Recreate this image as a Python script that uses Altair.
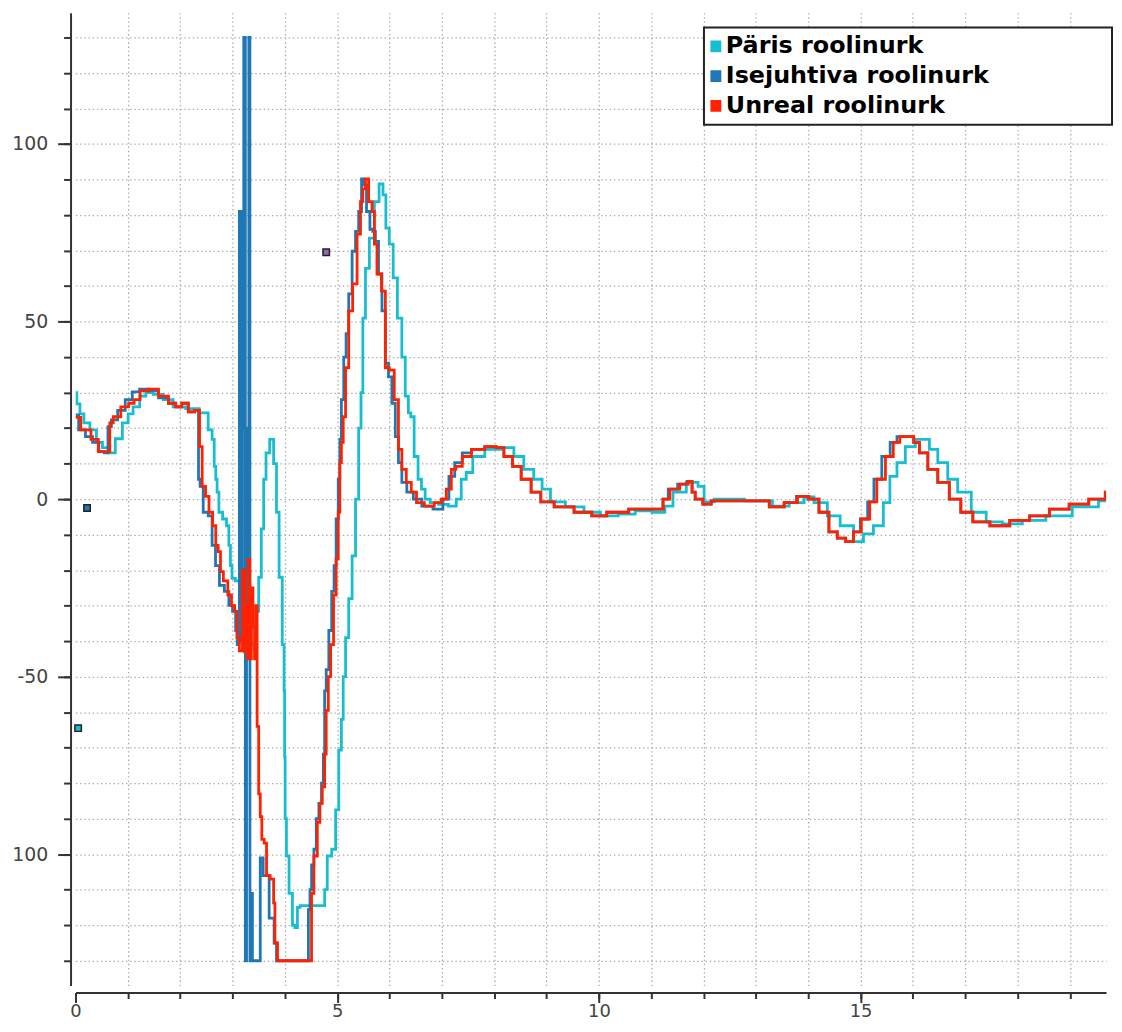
import altair as alt
import pandas as pd

# ---- series names / colours ----
series_names = ["Päris roolinurk", "Isejuhtiva roolinurk", "Unreal roolinurk"]
series_colors = ["#17becf", "#1f77b4", "#ff2200"]

# ---- Päris roolinurk (cyan) ----
paris_x = [0.00, 0.05, 0.12, 0.20, 0.35, 0.45, 0.58, 0.69, 0.83, 0.96, 1.05, 1.15, 1.30, 1.39, 1.58, 1.77,
           1.96, 2.25, 2.48, 2.59, 2.63, 2.67, 2.69, 2.72, 2.76, 2.86, 2.91, 2.95, 2.97, 3.01, 3.10, 3.20,
           3.24, 3.25, 3.33, 3.39, 3.43, 3.48, 3.52, 3.58, 3.61, 3.67, 3.75, 3.82, 3.86, 3.92, 3.98, 3.99,
           4.00, 4.01, 4.05, 4.11, 4.18, 4.20, 4.28, 4.30, 4.75, 4.77, 4.85, 4.94, 5.00, 5.06, 5.10, 5.13,
           5.19, 5.25, 5.32, 5.38, 5.44, 5.47, 5.51, 5.57, 5.66, 5.76, 5.84, 5.91, 5.95, 6.04, 6.10, 6.20,
           6.27, 6.33, 6.39, 6.42, 6.52, 6.57, 6.65, 6.71, 6.84, 7.03, 7.22, 7.33, 7.41, 7.52, 7.66, 7.98,
           8.28, 8.47, 8.66, 8.85, 8.98, 9.17, 9.55, 9.88, 10.18, 10.56, 10.83, 11.20, 11.32, 11.51, 11.83,
           11.96, 12.06, 12.34, 13.22, 13.41, 13.86, 13.98, 14.24, 14.49, 14.73, 15.00, 15.11, 15.38, 15.49,
           15.63, 15.76, 15.95, 16.14, 16.25, 16.38, 16.57, 16.76, 16.95, 17.28, 17.52, 17.90, 18.28, 18.80,
           19.29, 19.80]
paris_y = [30, 26.8, 24, 21.5, 19.5, 16, 14.5, 13, 17, 21.5, 24, 26, 29, 30, 29.5, 28,
           26, 25.5, 24.3, 19.5, 16.8, 9.2, 5.6, 2, -3.7, -5.6, -7.5, -13, -18.7, -22.3, -23, -23,
           -26, -31.6, -36, -41, -42, -31.6, -22, -8.4, 5.6, 13, 16.8, 10, -3.7, -22, -41, -54,
           -72.6, -90, -100.5, -111, -120, -120.7, -115, -114.5, -114.5, -110, -100.5, -98.6, -87.5, -70.7, -62, -50,
           -39, -28, -16, 0, 20, 30, 51, 65, 73.5, 83.8, 88.8, 85.7, 76.3, 71.8, 62.3, 51,
           40, 29, 24.3, 23.2, 12, 5.6, 2.8, 0, -1, -1.5, -2, 0, 5.6, 7.5, 12, 14,
           14.5, 12, 8.4, 5.6, 2.8, -0.8, -2.2, -3.7, -4.7, -4.2, -3.3, -3.7, -2, 2, 4.7,
           3.6, -0.8, 0, -0.5, -2, -1, 0.6, -1, -4.7, -7.5, -12, -9.8, -7.5, -1,
           6.4, 10.3, 14.8, 16.8, 16.8, 14, 10.3, 5.6, 2, -3.7, -6.4, -7, -6, -4.7,
           -2.2, -0.5]

# ---- Isejuhtiva roolinurk (blue) ----
ise_x = [0.00, 0.12, 0.26, 0.39, 0.50, 0.60, 0.64, 0.73, 0.88, 1.02, 1.15, 1.30, 1.49, 1.68, 1.87, 1.96,
         2.10, 2.21, 2.34, 2.36, 2.40, 2.48, 2.59, 2.63, 2.72, 2.78, 2.91, 2.95, 3.05, 3.07, 3.11, 3.15,
         3.18, 3.20, 3.23, 3.26, 3.275, 3.284, 3.294, 3.303, 3.32, 3.345, 3.37, 3.39, 3.52, 3.54,
         3.63, 3.77, 3.82, 3.86,
         4.43, 4.47, 4.49, 4.53, 4.58, 4.62, 4.68, 4.72, 4.75, 4.77, 4.81, 4.87, 4.92, 4.96, 5.00, 5.04,
         5.06, 5.10, 5.15, 5.19, 5.25, 5.32, 5.38, 5.44, 5.49, 5.53, 5.59, 5.66, 5.70, 5.76, 5.82, 5.89,
         5.95, 6.01, 6.08, 6.14, 6.20, 6.27, 6.39, 6.52, 6.71, 6.95, 7.09, 7.18, 7.31, 7.47, 7.66, 7.98,
         8.09, 8.28, 8.42, 8.61, 8.80, 8.98, 9.31, 9.74, 9.99, 10.31, 10.83, 11.20, 11.24, 11.41, 11.60,
         11.77, 11.79, 11.89, 12.08, 12.21, 13.10, 13.41, 13.67, 13.88, 14.11, 14.30, 14.49, 14.62, 14.81,
         14.92, 15.07, 15.20, 15.31, 15.50, 15.63, 15.76, 15.97, 16.06, 16.19, 16.38, 16.57, 16.82, 17.01,
         17.28, 17.66, 18.04, 18.42, 18.80, 19.17, 19.55, 19.80]
ise_y = [23.7, 19.5, 17.6, 16, 13.4, 13, 20.4, 22.3, 25, 28, 30.2, 31, 30.5, 28.5, 27, 26,
         27, 24.6, 25, 5.6, 3.6, -3.7, -4.7, -13, -18.7, -24.3, -26, -29.9, -31.6, -37, -41, 81,
         -40, 20, 130, -130, -18, 20, -18, 20, 130, -130, -111, -130, -130, -101,
         -106, -118, -125, -130,
         -130, -115.6, -110, -103, -98.6, -90, -85.7, -80, -71.8, -54, -48, -37, -26, -18.7, -5.6, 5.6,
         16.8, 28, 40, 46.6, 57.8, 69.8, 75.4, 81, 90.2, 88.5, 81, 76, 75.4, 72.6, 63.4, 53,
         38.3, 34.4, 27, 17.6, 10.3, 4.7, 2, 0, -2, -2.8, 0, 6.4, 10.3, 13, 14, 14.8,
         14.5, 12, 9.2, 5.6, 2, -0.8, -2.2, -3.7, -4.7, -3.7, -2.8, -2.8, 0, 2.8, 4.2,
         5, 2, 0, -1.4, -0.5, -0.5, -2.2, -1, 0.8, 0, -3.7, -9.2, -11, -12,
         -9.2, -5.6, -0.8, 5.6, 12, 16, 17.6, 17.6, 16, 13, 8.4, 4.7, 0, -3.7,
         -6.4, -7.5, -6, -4.7, -2.8, -1.4, 0, 2]

# ---- Unreal roolinurk (red) ----
unreal_x = [0.00, 0.20, 0.39, 0.48, 0.64, 0.67, 0.77, 0.96, 1.07, 1.17, 1.30, 1.49, 1.68, 1.87, 1.96, 2.10,
            2.21, 2.34, 2.40, 2.44, 2.53, 2.57, 2.67, 2.69, 2.76, 2.78, 2.87, 2.95, 3.01, 3.07, 3.10, 3.16,
            3.22, 3.24, 3.27, 3.29, 3.31, 3.35, 3.37, 3.41, 3.43, 3.46, 3.48, 3.52, 3.54, 3.58, 3.63, 3.67,
            3.77, 3.80, 3.82, 3.90, 4.49, 4.53, 4.58, 4.66, 4.68, 4.75, 4.77, 4.81, 4.85, 4.90, 4.96, 5.00,
            5.04, 5.06, 5.10, 5.13, 5.19, 5.25, 5.34, 5.42, 5.47, 5.51, 5.57, 5.63, 5.70, 5.72, 5.80, 5.89,
            5.95, 6.04, 6.14, 6.20, 6.27, 6.37, 6.46, 6.57, 6.76, 6.95, 7.03, 7.14, 7.22, 7.31, 7.47, 7.66,
            7.98, 8.09, 8.28, 8.42, 8.61, 8.80, 8.98, 9.31, 9.74, 9.99, 10.31, 10.83, 11.20, 11.26, 11.45,
            11.64, 11.77, 11.79, 11.89, 12.08, 12.21, 13.10, 13.41, 13.67, 13.92, 14.11, 14.30, 14.49, 14.62,
            14.81, 14.92, 15.11, 15.24, 15.38, 15.57, 15.68, 15.82, 15.97, 16.06, 16.19, 16.38, 16.57, 16.82,
            17.01, 17.28, 17.66, 18.04, 18.42, 18.80, 19.17, 19.55, 19.80]
unreal_y = [23, 19.5, 16.8, 13.4, 13.4, 21.5, 23.2, 26, 27, 28, 30.5, 31, 29, 27, 26, 27,
            24.6, 25, 14.8, 3.6, 0.8, -3.7, -7.5, -13, -14.8, -20.4, -23, -27, -30, -31.6, -39, -42.7,
            -20, -43, -30, -45, -17, -45, -25, -36, -45, -30, -64, -83, -89.4, -95.8, -96.9, -106,
            -107, -113.7, -125, -130, -130, -111, -100.5, -91, -85.7, -81, -71.8, -59.5, -50, -41, -27, -16.8,
            -3.7, 10.3, 16, 23.2, 37, 53, 60.6, 74.6, 83.8, 87.4, 90.2, 83.8, 81, 71.8, 63.4, 58.6,
            37, 36.3, 28, 14, 8.4, 4.7, 2, -1, -2, -1, 0, 2.8, 8.4, 9.2, 12, 14,
            14.8, 14.5, 12, 9.2, 5.6, 2, -0.8, -2.2, -3.7, -4.7, -3.7, -2.8, -2.8, 0, 2.8,
            4.2, 5, 2, 0, -1.4, -0.5, -0.5, -2.2, -1, 0.8, 0, -3.7, -9.2, -11,
            -12, -9.2, -5.6, -0.8, 5.6, 12, 16, 17.6, 17.6, 16, 13, 8.4, 4.7, 0,
            -3.7, -6.4, -7.5, -6, -4.7, -2.8, -1.4, 0, 2]

# ---- small square markers ----
marker_x = [0.22, 0.05, 4.79]
marker_y = [-2.5, -64.5, 69.5]
marker_colors = ["#1f77b4", "#17becf", "#9467bd"]

# ---- axis tick values ----
x_major_ticks = [0, 5, 10, 15]
x_minor_ticks = list(range(1, 20))
y_major_ticks = [-100, -50, 0, 50, 100]
y_minor_ticks = list(range(-130, 131, 10))

rows = []
for name, xs, ys in zip(series_names, [paris_x, ise_x, unreal_x], [paris_y, ise_y, unreal_y]):
    for a, b in zip(xs, ys):
        rows.append({"t": a, "angle": b, "series": name})
df = pd.DataFrame(rows)
mdf = pd.DataFrame({"t": marker_x, "angle": marker_y, "c": marker_colors})

W, H = 1038, 980
x_scale = alt.Scale(domain=[0, 19.69], nice=False, zero=False)
y_scale = alt.Scale(domain=[-137, 137], nice=False, zero=False)

AX = dict(domainColor="#333333", domainWidth=2, tickColor="#333333", tickWidth=2,
          labelColor="#444444", labelFont="DejaVu Sans", title=None)

x_major = alt.Axis(orient="bottom", values=x_major_ticks, tickSize=10, offset=7, grid=False,
                   labelPadding=0, labelFlush=False, labelFontSize=18,
                   labelExpr="'' + datum.value", **AX)
y_major = alt.Axis(orient="left", values=y_major_ticks, tickSize=13, offset=5, grid=False,
                   labelPadding=10, labelFontSize=19,
                   labelExpr="datum.value == -100 ? '100' : (datum.value < 0 ? '-' + abs(datum.value) : '' + datum.value)",
                   **AX)
GRID = dict(grid=True, gridColor="#a9a9a9", gridDash=[1.4, 2.8], gridWidth=1.3, labels=False,
            domain=False, tickColor="#333333", tickWidth=2, title=None)
x_minor = alt.Axis(orient="bottom", values=x_minor_ticks, tickSize=6, offset=7, **GRID)
y_minor = alt.Axis(orient="left", values=y_minor_ticks, tickSize=7, offset=5, **GRID)

# filled-looking square legend symbol built from dense horizontal strokes
square_path = "".join("M-1,%.1fH1" % v for v in [-0.9, -0.7, -0.5, -0.3, -0.1, 0.1, 0.3, 0.5, 0.7, 0.9])
pad = "\u00a0" * 14 + "\u200b"
legend = alt.Legend(orient="none", legendX=633, legendY=15, title=None, fillColor="white",
                    strokeColor="#222222", padding=7, symbolType=square_path, symbolSize=121,
                    symbolStrokeWidth=2, symbolOffset={"expr": "-7"}, labelFont="DejaVu Sans",
                    labelFontWeight="bold", labelFontSize=24, labelColor="black", labelLimit=900,
                    rowPadding=6, labelOffset={"expr": "-2"},
                    labelExpr="datum.label + '" + pad + "'")
color = alt.Color("series:N", scale=alt.Scale(domain=series_names, range=series_colors), legend=legend)

markers = alt.Chart(mdf).mark_square(size=42, stroke="#222222", strokeWidth=1.5, opacity=1).encode(
    x=alt.X("t:Q", scale=x_scale, axis=x_minor),
    y=alt.Y("angle:Q", scale=y_scale, axis=y_minor),
    fill=alt.Fill("c:N", scale=None),
)


def series_layer(name, with_axes):
    return alt.Chart(df).transform_filter(alt.datum.series == name).mark_line(
        interpolate="step", strokeWidth=2.8, clip=True
    ).encode(
        x=alt.X("t:Q", scale=x_scale, axis=x_major if with_axes else None),
        y=alt.Y("angle:Q", scale=y_scale, axis=y_major if with_axes else None),
        color=color,
    )


chart = alt.layer(
    markers,
    series_layer(series_names[0], True),
    series_layer(series_names[1], False),
    series_layer(series_names[2], False),
).resolve_axis(x="independent", y="independent").properties(
    width=W, height=H,
    autosize=alt.AutoSizeParams(type="none"),
    padding={"left": 68, "top": 1, "right": 8, "bottom": 35},
    background="white",
).configure_view(strokeWidth=0).configure_legend(strokeWidth=2)

chart.save("out.html", embed_options={"renderer": "svg", "actions": False})
